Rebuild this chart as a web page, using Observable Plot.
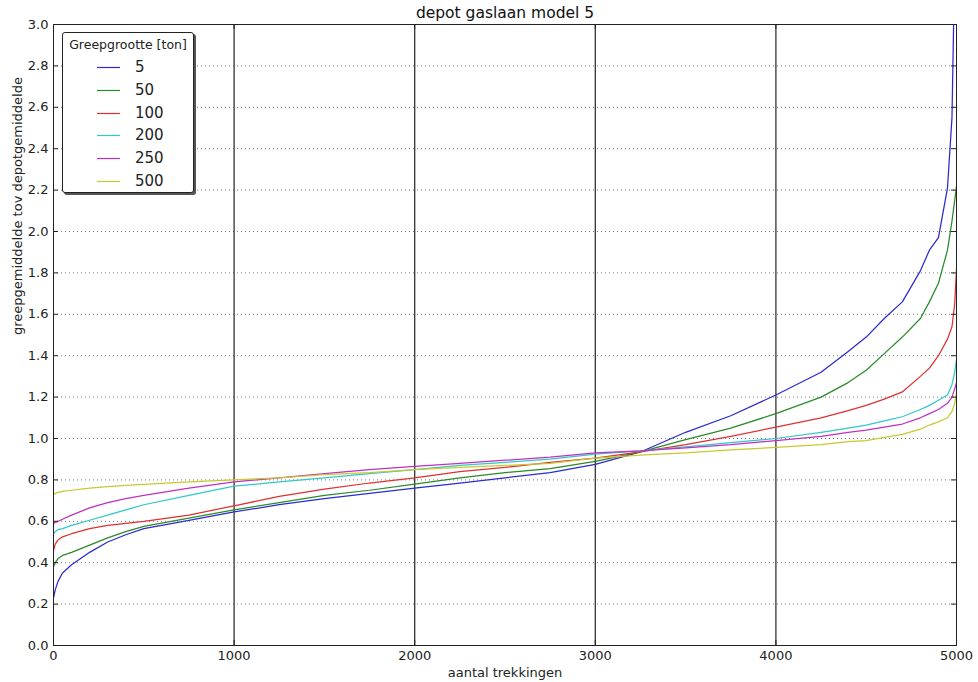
<!DOCTYPE html>
<html><head><meta charset="utf-8">
<script src="https://cdn.jsdelivr.net/npm/d3@7"></script>
<script src="https://cdn.jsdelivr.net/npm/@observablehq/plot@0.6"></script>
<style>
body{margin:0;background:#fff;}
#chart{position:relative;width:978px;height:682px;font-family:"DejaVu Sans",sans-serif;color:#222;}
#legend{position:absolute;left:62px;top:32px;width:130px;height:159px;border:1px solid #222;border-radius:3px;background:#fff;box-shadow:2px 2px 0 #555;}
#legend .ttl{position:absolute;left:0;width:100%;top:4px;text-align:center;font-size:12.5px;line-height:16px;}
#legend .row{position:absolute;left:0;width:100%;height:20px;}
#legend .row svg{position:absolute;left:34px;top:9px;}
#legend .row span{position:absolute;left:72px;top:0;font-size:15px;line-height:20px;}
</style></head><body><div id="chart"></div>
<script>
const xs = [0, 10, 25, 50, 100, 200, 300, 400, 500, 750, 1000, 1250, 1500, 1750, 2000, 2250, 2500, 2750, 3000, 3250, 3500, 3750, 4000, 4250, 4400, 4500, 4600, 4700, 4800, 4850, 4900, 4950, 4975, 4990, 5000];
const s5   = [0.23, 0.27, 0.31, 0.35, 0.39, 0.45, 0.50, 0.535, 0.565, 0.605, 0.645, 0.68, 0.71, 0.735, 0.76, 0.785, 0.81, 0.835, 0.875, 0.935, 1.03, 1.11, 1.21, 1.32, 1.42, 1.49, 1.58, 1.66, 1.81, 1.91, 1.97, 2.21, 2.55, 3.3, 3.9];
const s50  = [0.38, 0.40, 0.42, 0.435, 0.45, 0.485, 0.52, 0.55, 0.575, 0.615, 0.655, 0.69, 0.725, 0.75, 0.78, 0.81, 0.835, 0.855, 0.89, 0.935, 0.995, 1.05, 1.12, 1.20, 1.27, 1.33, 1.41, 1.49, 1.58, 1.66, 1.75, 1.91, 2.05, 2.15, 2.22];
const s100 = [0.46, 0.49, 0.51, 0.525, 0.54, 0.565, 0.58, 0.59, 0.60, 0.63, 0.675, 0.72, 0.755, 0.785, 0.81, 0.84, 0.86, 0.885, 0.905, 0.935, 0.97, 1.01, 1.055, 1.10, 1.135, 1.16, 1.19, 1.225, 1.30, 1.34, 1.40, 1.48, 1.54, 1.65, 1.82];
const s200 = [0.54, 0.55, 0.56, 0.565, 0.58, 0.605, 0.63, 0.655, 0.68, 0.725, 0.77, 0.79, 0.81, 0.83, 0.85, 0.87, 0.885, 0.90, 0.925, 0.94, 0.96, 0.98, 1.00, 1.03, 1.05, 1.065, 1.085, 1.105, 1.14, 1.16, 1.185, 1.21, 1.26, 1.32, 1.38];
const s250 = [0.59, 0.595, 0.60, 0.61, 0.63, 0.665, 0.69, 0.71, 0.725, 0.76, 0.79, 0.81, 0.83, 0.85, 0.865, 0.88, 0.895, 0.91, 0.93, 0.94, 0.955, 0.97, 0.99, 1.01, 1.03, 1.04, 1.055, 1.07, 1.10, 1.12, 1.14, 1.17, 1.20, 1.24, 1.27];
const s500 = [0.73, 0.735, 0.74, 0.745, 0.75, 0.76, 0.767, 0.773, 0.778, 0.79, 0.80, 0.81, 0.825, 0.835, 0.85, 0.86, 0.87, 0.88, 0.905, 0.92, 0.93, 0.945, 0.957, 0.97, 0.985, 0.99, 1.005, 1.02, 1.045, 1.065, 1.08, 1.10, 1.13, 1.17, 1.22];

const seriesNames = ["5", "50", "100", "200", "250", "500"];
const seriesValues = [s5, s50, s100, s200, s250, s500];
const seriesColors = ["#2b2bd0", "#2a8a2a", "#e03030", "#30c8c8", "#c030c0", "#c8c830"];

const xTicks = [0, 1000, 2000, 3000, 4000, 5000];
const yTicks = [0, 0.2, 0.4, 0.6, 0.8, 1.0, 1.2, 1.4, 1.6, 1.8, 2.0, 2.2, 2.4, 2.6, 2.8, 3.0];
const gridX = [1000, 2000, 3000, 4000];
const gridY = [0.2, 0.4, 0.6, 0.8, 1.0, 1.2, 1.4, 1.6, 1.8, 2.0, 2.2, 2.4, 2.6, 2.8];

const titleText = "depot gaslaan model 5";
const xLabel = "aantal trekkingen";
const yLabel = "greepgemiddelde tov depotgemiddelde";
const legendTitle = "Greepgrootte [ton]";

const rows = [];
seriesNames.forEach((name, i) => {
  xs.forEach((x, j) => rows.push({x, y: seriesValues[i][j], series: name}));
});

const W = 978, H = 682, mL = 53, mR = 22, mT = 24, mB = 37;
const innerW = W - mL - mR, innerH = H - mT - mB;

const plot = Plot.plot({
  width: W, height: H,
  marginLeft: mL, marginRight: mR, marginTop: mT, marginBottom: mB,
  style: {fontFamily: "'DejaVu Sans', sans-serif", fontSize: "13px", color: "#222", background: "#fff", overflow: "visible"},
  x: {domain: [0, 5000], ticks: xTicks, tickSize: 0, tickPadding: 5, label: null, tickFormat: d => String(d)},
  y: {domain: [0, 3], ticks: yTicks, tickSize: 0, tickPadding: 5, label: null, tickFormat: d => d.toFixed(1)},
  color: {domain: seriesNames, range: seriesColors},
  marks: [
    Plot.ruleY(gridY, {y: d => d, stroke: "#777", strokeDasharray: "1,3", strokeWidth: 1}),
    Plot.ruleX(gridX, {x: d => d, stroke: "#333", strokeWidth: 1.3}),
    Plot.line(rows, {x: "x", y: "y", z: "series", stroke: "series", strokeWidth: 1.25, clip: true}),
    Plot.frame({stroke: "#222", strokeWidth: 1}),
    Plot.tickY(yTicks, {y: d => d, insetRight: innerW - 5, stroke: "#222"}),
    Plot.tickY(yTicks, {y: d => d, insetLeft: innerW - 5, stroke: "#222"}),
    Plot.tickX(xTicks, {x: d => d, insetTop: innerH - 5, stroke: "#222"}),
    Plot.tickX(xTicks, {x: d => d, insetBottom: innerH - 5, stroke: "#222"}),
    Plot.text([titleText], {text: d => d, frameAnchor: "top", lineAnchor: "middle", dy: -11, fontSize: 15.5, fill: "#111"}),
    Plot.text([xLabel], {text: d => d, frameAnchor: "bottom", lineAnchor: "middle", dy: 27, fontSize: 13, fill: "#222"}),
    Plot.text([yLabel], {text: d => d, frameAnchor: "left", dx: -36, rotate: -90, fontSize: 13, fill: "#222"})
  ]
});

const chart = document.getElementById("chart");
chart.appendChild(plot);

const legend = document.createElement("div");
legend.id = "legend";
const ttl = document.createElement("div");
ttl.className = "ttl";
ttl.textContent = legendTitle;
legend.appendChild(ttl);
seriesNames.forEach((name, i) => {
  const row = document.createElement("div");
  row.className = "row";
  row.style.top = (24 + i * 22.8) + "px";
  row.innerHTML = `<svg width="24" height="3"><line x1="0" x2="23" y1="1.5" y2="1.5" stroke="${seriesColors[i]}" stroke-width="1.2"/></svg><span>${name}</span>`;
  legend.appendChild(row);
});
chart.appendChild(legend);
</script>
</body></html>
